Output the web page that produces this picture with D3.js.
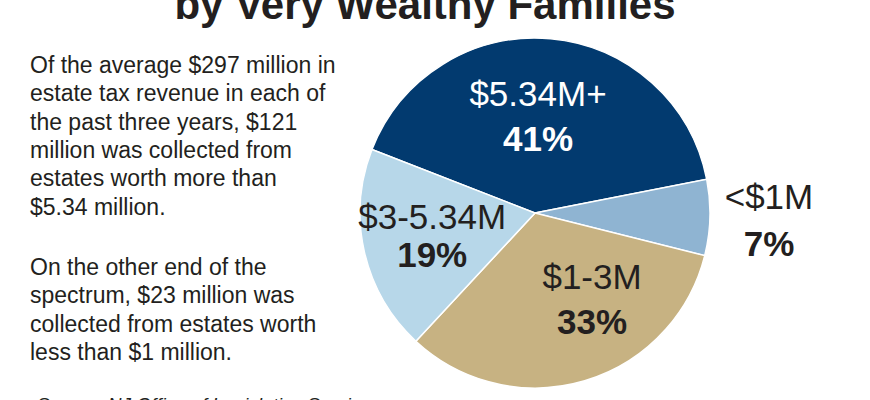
<!DOCTYPE html>
<html lang="en">
	<head>
		<meta charset="UTF-8">
		<meta name="viewport" content="width=device-width, initial-scale=1.0">
		<title>Estate Tax Paid by Very Wealthy Families</title>
		<style>
			body, html {
				margin: 0;
				padding: 0;
				background-color: #ffffff;
				overflow: hidden;
			}
			text {
				font-family: "Liberation Sans", Arial, Helvetica, sans-serif;
				fill: #231f20;
			}
		</style>
	</head>
	<body>
		<svg id="svg" width="870" height="400"></svg>

		<script src="https://d3js.org/d3.v7.min.js"></script>
		<script>
			// estate value brackets and their share of estate tax revenue (%)
			const brackets = ['$5.34M+', '<$1M', '$1-3M', '$3-5.34M']
			const shares = [41, 7, 33, 19]
			const colors = ['#023a6f', '#8fb4d2', '#c7b282', '#b7d7e9']
			const labelColors = ['#ffffff', '#231f20', '#231f20', '#231f20']

			const noteOne = ['Of the average $297 million in', 'estate tax revenue in each of', 'the past three years, $121', 'million was collected from', 'estates worth more than', '$5.34 million.']
			const noteTwo = ['On the other end of the', 'spectrum, $23 million was', 'collected from estates worth', 'less than $1 million.']

			const svg = d3.select('#svg')
			const cx = 535, cy = 213, radius = 175

			svg.append('text')
				.attr('x', 425)
				.attr('y', 19)
				.attr('text-anchor', 'middle')
				.style('font-size', '42px')
				.style('font-weight', 'bold')
				.text('by Very Wealthy Families')

			// left hand notes
			const notes = svg.append('g').style('font-size', '23px')
			noteOne.forEach((line, i) => {
				notes.append('text').attr('x', 30).attr('y', 73 + i * 28.3).text(line)
			})
			noteTwo.forEach((line, i) => {
				notes.append('text').attr('x', 30).attr('y', 275 + i * 28.3).text(line)
			})

			svg.append('text')
				.attr('x', 37)
				.attr('y', 411)
				.style('font-size', '19px')
				.style('font-style', 'italic')
				.text('Source: NJ Office of Legislative Services')

			// pie
			const start = -68.7 * Math.PI / 180
			const pie = d3.pie().sort(null).startAngle(start).endAngle(start + 2 * Math.PI)
			const arcs = pie(shares)
			const arc = d3.arc().innerRadius(0).outerRadius(radius)

			const g = svg.append('g').attr('transform', `translate(${cx},${cy})`)

			g.selectAll('path')
				.data(arcs)
				.enter()
				.append('path')
				.attr('d', arc)
				.attr('fill', (d, i) => colors[i])
				.attr('stroke', '#ffffff')
				.attr('stroke-width', 1.5)

			// label placement: distance from centre, nudge from slice mid angle (deg), gap to % line
			const place = [
				{ r: 107, nudge: -3.5, gap: 45 },
				{ r: 234, nudge: -2.5, gap: 47 },
				{ r: 95, nudge: -20.4, gap: 45 },
				{ r: 104, nudge: 4.1, gap: 38 }
			]

			const labels = g.selectAll('g.label')
				.data(arcs)
				.enter()
				.append('g')
				.attr('class', 'label')
				.attr('transform', (d, i) => {
					const a = (d.startAngle + d.endAngle) / 2 + place[i].nudge * Math.PI / 180
					return `translate(${place[i].r * Math.sin(a)},${-place[i].r * Math.cos(a)})`
				})

			labels.append('text')
				.attr('text-anchor', 'middle')
				.style('font-size', '35px')
				.style('fill', (d, i) => labelColors[i])
				.text((d, i) => brackets[i])

			labels.append('text')
				.attr('text-anchor', 'middle')
				.attr('y', (d, i) => place[i].gap)
				.style('font-size', '35px')
				.style('font-weight', 'bold')
				.style('fill', (d, i) => labelColors[i])
				.text(d => d.data + '%')
		</script>
	</body>
</html>
